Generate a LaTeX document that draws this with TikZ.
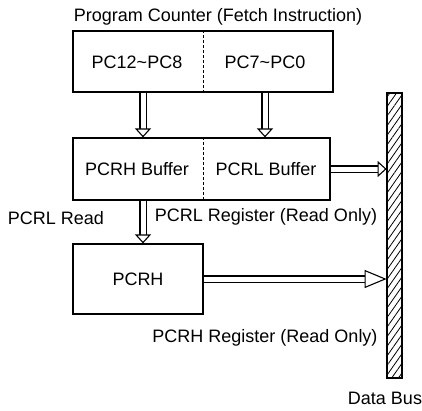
\documentclass[tikz,border=0pt]{standalone}
\usepackage{fontspec}
\setmainfont{Liberation Sans}
\usetikzlibrary{arrows.meta,positioning,patterns.meta}

\begin{document}
\begin{tikzpicture}[x=1pt,y=-1pt,font=\fontsize{18}{21}\selectfont,
	every node/.style={inner sep=0pt},
	reg/.style={draw,line width=1.2pt,minimum height=61pt},
	hollow/.style={double,double distance=5pt,line width=1.1pt,-{Triangle[length=9pt,width=16pt,fill=white,line width=1.1pt]}},
	longhollow/.style={hollow,-{Triangle[length=22pt,width=18pt,fill=white,line width=1.1pt]}},
	divider/.style={densely dashed,line width=1pt}]
	 \useasboundingbox (0,0) rectangle (422,410);
	 \node (title) at (218,17) {Program Counter (Fetch Instruction)};
	 \node[reg,minimum width=260pt] (pc) at (203,61.5) {};
	 \node (pch) at (137,62) {PC12\textasciitilde PC8};
	 \node (pcl) at (265,62) {PC7\textasciitilde PC0};
	 \node[reg,minimum width=257pt,minimum height=62pt] (buf) at (201.5,169) {};
	 \node (bufh) at (137,169) {PCRH Buffer};
	 \node (bufl) at (266,169) {PCRL Buffer};
	 \node[reg,minimum width=130pt,minimum height=70pt] (pcrh) at (138,279) {PCRH};
	 \node[draw,line width=1.2pt,pattern={Lines[angle=55,distance=5.5pt,line width=0.8pt]},minimum width=15pt,minimum height=285pt] (bus) at (394.5,235.5) {};
	 \node (rd) at (56,218) {PCRL Read};
	 \node (regl) at (266,217) {PCRL Register (Read Only)};
	 \node (regh) at (265,338) {PCRH Register (Read Only)};
	 \node (dbus) at (385,398) {Data Bus};
	 \coordinate (hx) at (143,0);

	 \draw[divider] (pc.north) -- (pc.south);
	 \draw[divider] (pc.south |- buf.north) -- (pc.south |- buf.south);
	 \draw[hollow] (pc.south -| hx) -- (buf.north -| hx);
	 \draw[hollow] (pc.south -| pcl) -- (buf.north -| pcl);
	 \draw[hollow] (buf.south -| hx) -- (pcrh.north -| hx);
	 \draw[hollow] (buf.east) -- (buf.east -| bus.west);
	 \draw[longhollow] (pcrh.east) -- (pcrh.east -| bus.west);
\end{tikzpicture}
\end{document}
